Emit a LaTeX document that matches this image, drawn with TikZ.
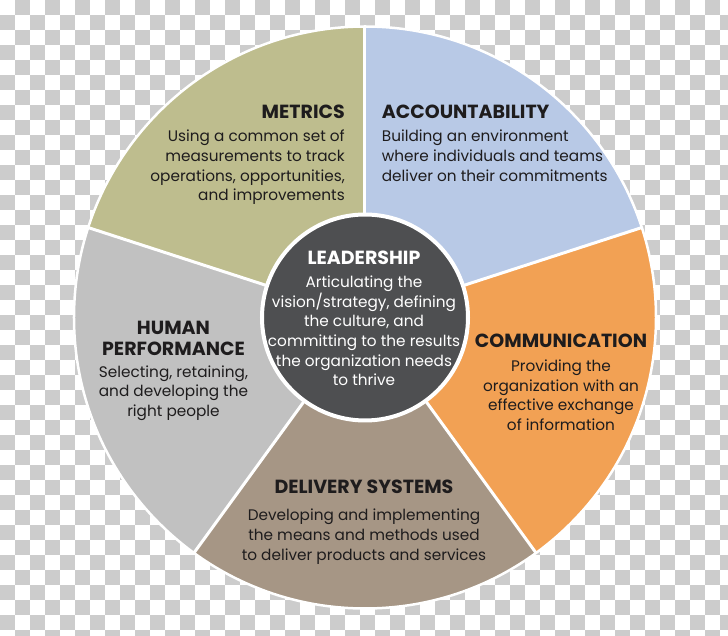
\documentclass[tikz,border=0pt]{standalone}
\usepackage{fontspec}
\setmainfont{Poppins}
\usetikzlibrary{positioning}
\definecolor{metricsgreen}{RGB}{190,189,142}
\definecolor{accountblue}{RGB}{184,201,230}
\definecolor{commorange}{RGB}{242,161,84}
\definecolor{deliverybrown}{RGB}{166,150,133}
\definecolor{humangray}{RGB}{193,193,193}
\definecolor{leaddark}{RGB}{78,79,81}
\definecolor{checkgray}{RGB}{204,204,204}
\definecolor{inkblack}{RGB}{30,28,29}
\tikzset{
title/.style={font=\bfseries\fontsize{19}{21.7}\selectfont, text=inkblack, inner sep=0pt, align=center}, % section headings
body/.style={font=\fontsize{15.3}{19.6}\selectfont, text=inkblack, inner sep=0pt}, % descriptions
divider/.style={white, line width=3pt}, % white gaps between the sectors
}

\begin{document}
\begin{tikzpicture}[x=1pt,y=1pt]
            \useasboundingbox (-365,-318.5) rectangle (363,317.5);
            % checkerboard background
            \fill[white] (-365,-318.5) rectangle (363,317.5);
            \foreach \j in {0,2,...,42}
                \foreach \i in {1,3,...,47}
                    \fill[checkgray] (15*\i-365,317.5-15*\j) rectangle ++(15,-15);
            \foreach \j in {1,3,...,41}
                \foreach \i in {0,2,...,48}
                    \fill[checkgray] (15*\i-365,317.5-15*\j) rectangle ++(15,-15);
            % the wheel
            \foreach \a/\c in {18/accountblue, 90/metricsgreen, 162/humangray, 234/deliverybrown, 306/commorange}
                \fill[\c] (0,0) -- (\a:291) arc[start angle=\a, delta angle=72, radius=291] -- cycle;
            \foreach \a in {18,90,...,306}
                \draw[divider] (0,0) -- (\a:291);
            \draw[white, line width=2.5pt] (0,0) circle[radius=291];
            \node[circle, fill=leaddark, draw=white, line width=4pt, minimum size=206pt, inner sep=0pt] (hub) at (0,0) {};
            % texts
            \node[title, anchor=north east] (metricsTitle) at (-20,212.5) {METRICS};
            \node[body, align=right, below=11pt of metricsTitle.south east, anchor=north east] (metricsText)
                {Using a common set of\\measurements to track\\operations, opportunities,\\and improvements};
            \node[title, anchor=north west] (accountTitle) at (16.7,212.5) {ACCOUNTABILITY};
            \node[body, align=left, below=11pt of accountTitle.south west, anchor=north west] (accountText)
                {Building an environment\\where individuals and teams\\deliver on their commitments};
            \node[title, text=white, anchor=north] (leadTitle) at (-1,66.8) {LEADERSHIP};
            \node[body, text=white, align=center, below=11pt of leadTitle.south] (leadText)
                {Articulating the\\vision/strategy, defining\\the culture, and\\committing to the results\\the organization needs\\to thrive};
            \node[title, anchor=north] (humanTitle) at (-191.5,-3.2) {HUMAN\\PERFORMANCE};
            \node[body, align=center, below=9pt of humanTitle.south] (humanText)
                {Selecting, retaining,\\and developing the\\right people};
            \node[title, anchor=north] (commTitle) at (196,-16.5) {COMMUNICATION};
            \node[body, align=center, below=11.5pt of commTitle.south] (commText)
                {Providing the\\organization with an\\effective exchange\\of information};
            \node[title, anchor=north] (deliveryTitle) at (-1,-162.5) {DELIVERY SYSTEMS};
            \node[body, align=center, below=15pt of deliveryTitle.south] (deliveryText)
                {Developing and implementing\\the means and methods used\\to deliver products and services};
\end{tikzpicture}
\end{document}
